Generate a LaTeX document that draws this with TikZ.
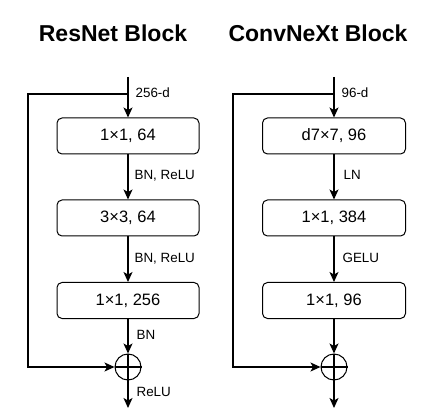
\documentclass[tikz,border=0pt]{standalone}
\usepackage{fontspec}
\setmainfont{Liberation Sans}
\usetikzlibrary{arrows.meta}
\begin{document}
\begin{tikzpicture}[x=1pt,y=-1pt,
  line width=1.2pt,
  arr/.style={-{Stealth[length=10pt,width=9pt,inset=2.5pt]}},
  blk/.style={draw, line width=1pt, rounded corners=5pt, minimum height=36pt, inner sep=0pt, font=\fontsize{16.5}{18}\selectfont},
  lbl/.style={anchor=base west, inner sep=0pt, font=\fontsize{13.4}{15}\selectfont},
  ttl/.style={anchor=base, inner sep=0pt, font=\fontsize{23}{26}\selectfont\bfseries},
  addc/.style={draw, circle, line width=1pt, minimum size=26pt, inner sep=0pt}
]
\useasboundingbox (0,0) rectangle (437,417);
% ---------------- ResNet ----------------
\node[ttl] (t1) at (113,42) {ResNet Block};
\coordinate (in1) at (128,77);
\coordinate (sp1) at (128,94);
\node[blk, minimum width=142pt] (a1) at (128,136) {1×1, 64};
\node[blk, minimum width=142pt] (a2) at (128,218) {3×3, 64};
\node[blk, minimum width=142pt] (a3) at (128,300.5) {1×1, 256};
\node[addc] (s1) at (128,367) {};
\draw (s1.north) -- (s1.south) (s1.west) -- (s1.east);
\coordinate (o1) at (128,408);
\draw[arr] (in1) -- (a1.north);
\draw[arr] (a1) -- (a2);
\draw[arr] (a2) -- (a3);
\draw[arr] (a3) -- (s1.north);
\draw[arr] (s1.south) -- (o1);
\draw[arr] (sp1) -- (28,94) -- (28,367) -- (s1.west);
\node[lbl] (l11) at (135,98) {256-d};
\node[lbl] (l12) at (134,180) {BN, ReLU};
\node[lbl] (l13) at (134,262.7) {BN, ReLU};
\node[lbl] (l14) at (136,339) {BN};
\node[lbl] (l15) at (136,396) {ReLU};
% ---------------- ConvNeXt ----------------
\node[ttl] (t2) at (318,42) {ConvNeXt Block};
\coordinate (in2) at (334,77);
\coordinate (sp2) at (334,94);
\node[blk, minimum width=143pt] (b1) at (334,136) {d7×7, 96};
\node[blk, minimum width=143pt] (b2) at (334,218) {1×1, 384};
\node[blk, minimum width=143pt] (b3) at (334,300.5) {1×1, 96};
\node[addc] (s2) at (334,367) {};
\draw (s2.north) -- (s2.south) (s2.west) -- (s2.east);
\coordinate (o2) at (334,408);
\draw[arr] (in2) -- (b1.north);
\draw[arr] (b1) -- (b2);
\draw[arr] (b2) -- (b3);
\draw[arr] (b3) -- (s2.north);
\draw[arr] (s2.south) -- (o2);
\draw[arr] (sp2) -- (233,94) -- (233,367) -- (s2.west);
\node[lbl] (l21) at (341,98) {96-d};
\node[lbl] (l22) at (343,180) {LN};
\node[lbl] (l23) at (342,262) {GELU};
\end{tikzpicture}
\end{document}
